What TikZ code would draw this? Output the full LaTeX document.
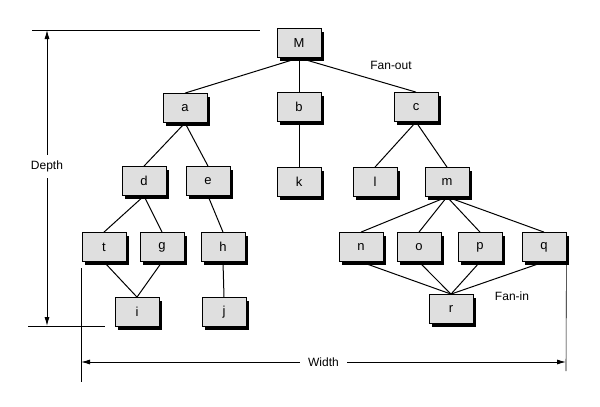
\documentclass[tikz,border=0pt]{standalone}
\usepackage{fontspec}
\setmainfont{Liberation Sans}
\usetikzlibrary{shadows,arrows.meta}

\begin{document}
\begin{tikzpicture}[x=1pt,y=-1pt,
    font=\fontsize{12}{14}\selectfont,
    box/.style={draw, fill=gray!25, line width=0.8pt, minimum width=44pt, minimum height=29pt, inner sep=0pt,
      font=\fontsize{13}{15}\selectfont,
      drop shadow={shadow xshift=3pt, shadow yshift=-3pt, fill=black, opacity=1}},
    edge/.style={line width=1pt},
    guide/.style={line width=0.6pt},
    dim/.style={line width=0.9pt, {Latex[length=9pt,width=5pt]}-{Latex[length=9pt,width=5pt]}}]
    \useasboundingbox (0,0) rectangle (600,407); % page size
    % level 0 and 1
    \node[box] (M) at (299,43) {M};
    \node[box] (a) at (185,108) {a};
    \node[box] (b) at (299,107) {b};
    \node[box] (c) at (416,107) {c};
    % level 2
    \node[box] (d) at (144,181) {d};
    \node[box] (e) at (208,181) {e};
    \node[box] (k) at (299,182) {k};
    \node[box] (l) at (375,182) {l};
    \node[box] (m) at (447,182) {m};
    % level 3
    \node[box] (t) at (104,247) {t};
    \node[box] (g) at (162,247) {g};
    \node[box] (h) at (223,247) {h};
    \node[box] (n) at (361,247) {n};
    \node[box] (o) at (419,247) {o};
    \node[box] (p) at (480,247) {p};
    \node[box] (q) at (544,247) {q};
    % level 4
    \node[box] (i) at (137,312) {i};
    \node[box] (j) at (224,312) {j};
    \node[box] (r) at (451,309) {r};
    % tree edges
    \foreach \up/\down in {M/a,M/b,M/c,a/d,a/e,b/k,c/l,c/m,d/t,d/g,e/h,m/n,m/o,m/p,m/q,t/i,g/i,h/j,n/r,o/r,p/r,q/r}
      \draw[edge] (\up.south) -- (\down.north);
    \node (fanout) at (391,65) {Fan-out}; % fan-out label
    \node (fanin) at (512,296) {Fan-in}; % fan-in label
    % depth
    \coordinate (dtop) at (47,30);
    \coordinate (dbot) at (47,326);
    \draw[guide] (32,30) -- (260,30); % top guide
    \draw[guide] (28,326) -- (105,326); % bottom guide
    \draw[dim] (dtop) -- node[pos=0.46, fill=white, inner xsep=1pt, inner ysep=6pt] (depth) {Depth} (dbot);
    % width
    \coordinate (wleft) at (81,362);
    \coordinate (wright) at (566,362);
    \draw[guide] (81,268) -- (81,382); % left guide
    \draw[guide] (q.south east) -- (566,371); % right guide
    \draw[dim] (wleft) -- node[fill=white, inner xsep=8pt] (width) {Width} (wright);
  \end{tikzpicture}
\end{document}
